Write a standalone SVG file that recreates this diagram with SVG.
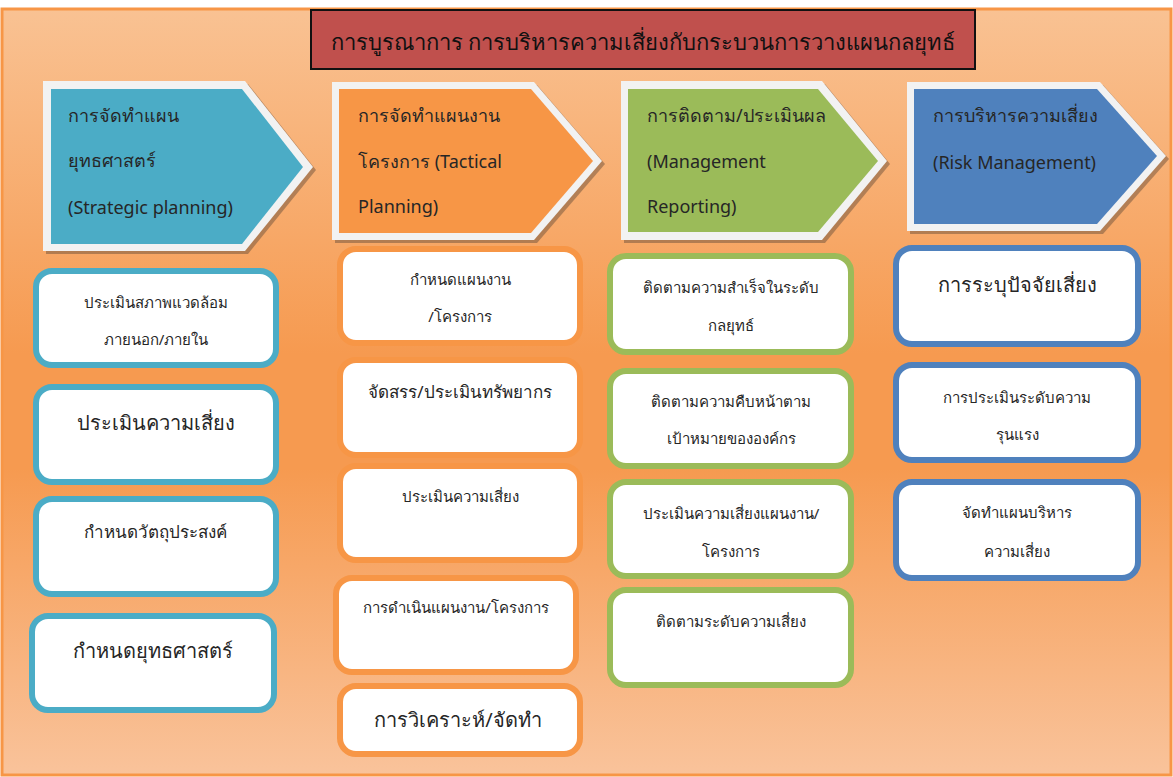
<svg xmlns="http://www.w3.org/2000/svg" width="1173" height="777" viewBox="0 0 1173 777">
<defs>
<linearGradient id="bg" x1="0" y1="0" x2="0" y2="1">
<stop offset="0" stop-color="#F9C293"/>
<stop offset="0.45" stop-color="#F69A50"/>
<stop offset="0.6" stop-color="#F69A50"/>
<stop offset="1" stop-color="#F9C39B"/>
</linearGradient>
<style>
text{font-family:"Noto Sans","DejaVu Sans",sans-serif;fill:#262626;}
.hd{font-size:18px;}
.s{font-size:15px;text-anchor:middle;}
.m{font-size:17px;text-anchor:middle;}
.l{font-size:20px;text-anchor:middle;}
.outer{fill:#F2F2F2;}
.shadow{fill:#7a5a40;opacity:0.55;}
.box{fill:#FFFFFF;stroke-width:6;}
.teal{stroke:#4BACC6;}
.orange{stroke:#F79646;}
.green{stroke:#9BBB59;}
.blue{stroke:#4F81BD;}
</style>
</defs>
<rect x="0" y="0" width="1173" height="777" fill="#FFFFFF"/>
<rect x="2" y="9" width="1169" height="766" fill="url(#bg)" stroke="#F79646" stroke-width="3"/>

<g id="title">
<rect x="311" y="10" width="664" height="59" fill="#C0504D" stroke="#111" stroke-width="2"/>
<text x="643" y="50" style="font-size:22px;text-anchor:middle;fill:#111;">การบูรณาการ การบริหารความเสี่ยงกับกระบวนการวางแผนกลยุทธ์</text>
</g>

<g id="chevron1">
<polygon class="shadow" points="46,84 248,84 316,170 248,254 46,254"/>
<polygon class="outer" points="43,81 245,81 313,167 245,251 43,251"/>
<polygon fill="#4BACC6" points="51,89 242,89 303,167 242,244 51,244"/>
<text class="hd" x="68" y="122">การจัดทำแผน</text>
<text class="hd" x="68" y="167">ยุทธศาสตร์</text>
<text class="hd" x="68" y="214">(Strategic planning)</text>
</g>

<g id="chevron2">
<polygon class="shadow" points="335,85 537,85 605,164 537,243 335,243"/>
<polygon class="outer" points="332,82 534,82 602,161 534,240 332,240"/>
<polygon fill="#F79646" points="339,89 531,89 593,161 531,233 339,233"/>
<text class="hd" x="358" y="122">การจัดทำแผนงาน</text>
<text class="hd" x="358" y="168">โครงการ (Tactical</text>
<text class="hd" x="358" y="213">Planning)</text>
</g>

<g id="chevron3">
<polygon class="shadow" points="624,84 825,84 890,164 825,243 624,243"/>
<polygon class="outer" points="621,81 822,81 887,161 822,240 621,240"/>
<polygon fill="#9BBB59" points="628,89 818,89 878,161 818,232 628,232"/>
<text class="hd" x="647" y="122">การติดตาม/ประเมินผล</text>
<text class="hd" x="647" y="168">(Management</text>
<text class="hd" x="647" y="213">Reporting)</text>
</g>

<g id="chevron4">
<polygon class="shadow" points="910,85 1103,85 1169,159 1103,234 910,234"/>
<polygon class="outer" points="907,82 1100,82 1166,156 1100,231 907,231"/>
<polygon fill="#4F81BD" points="914,89 1097,89 1157,156 1097,224 914,224"/>
<text class="hd" x="933" y="122">การบริหารความเสี่ยง</text>
<text class="hd" x="933" y="169">(Risk Management)</text>
</g>

<g id="s1b1"><rect class="box teal" x="36" y="271" width="240" height="94" rx="16"/>
<text class="s" x="156" y="308">ประเมินสภาพแวดล้อม</text><text class="s" x="156" y="345">ภายนอก/ภายใน</text></g>
<g id="s1b2"><rect class="box teal" x="36" y="387" width="240" height="95" rx="16"/>
<text class="l" x="156" y="430">ประเมินความเสี่ยง</text></g>
<g id="s1b3"><rect class="box teal" x="36" y="499" width="240" height="95" rx="16"/>
<text class="m" x="155" y="538">กำหนดวัตถุประสงค์</text></g>
<g id="s1b4"><rect class="box teal" x="32" y="616" width="242" height="94" rx="16"/>
<text class="l" x="153" y="658">กำหนดยุทธศาสตร์</text></g>

<g id="s2b1"><rect class="box orange" x="340" y="249" width="240" height="94" rx="16"/>
<text class="s" x="460" y="285">กำหนดแผนงาน</text><text class="s" x="460" y="322">/โครงการ</text></g>
<g id="s2b2"><rect class="box orange" x="340" y="360" width="240" height="95" rx="16"/>
<text class="m" x="460" y="398">จัดสรร/ประเมินทรัพยากร</text></g>
<g id="s2b3"><rect class="box orange" x="340" y="466" width="240" height="94" rx="16"/>
<text class="s" x="460" y="502">ประเมินความเสี่ยง</text></g>
<g id="s2b4"><rect class="box orange" x="336" y="578" width="240" height="94" rx="16"/>
<text class="s" x="456" y="613">การดำเนินแผนงาน/โครงการ</text></g>
<g id="s2b5"><rect class="box orange" x="340" y="686" width="240" height="68" rx="16"/>
<text class="l" x="458" y="727">การวิเคราะห์/จัดทำ</text></g>

<g id="s3b1"><rect class="box green" x="610" y="256" width="241" height="96" rx="16"/>
<text class="s" x="731" y="293">ติดตามความสำเร็จในระดับ</text><text class="s" x="731" y="331">กลยุทธ์</text></g>
<g id="s3b2"><rect class="box green" x="610" y="371" width="241" height="95" rx="16"/>
<text class="s" x="731" y="407">ติดตามความคืบหน้าตาม</text><text class="s" x="731" y="444">เป้าหมายขององค์กร</text></g>
<g id="s3b3"><rect class="box green" x="610" y="482" width="241" height="94" rx="16"/>
<text class="s" x="731" y="519">ประเมินความเสี่ยงแผนงาน/</text><text class="s" x="731" y="557">โครงการ</text></g>
<g id="s3b4"><rect class="box green" x="610" y="590" width="241" height="95" rx="16"/>
<text class="s" x="731" y="627">ติดตามระดับความเสี่ยง</text></g>

<g id="s4b1"><rect class="box blue" x="896" y="248" width="242" height="96" rx="16"/>
<text class="l" x="1017" y="292">การระบุปัจจัยเสี่ยง</text></g>
<g id="s4b2"><rect class="box blue" x="896" y="365" width="242" height="95" rx="16"/>
<text class="s" x="1017" y="403">การประเมินระดับความ</text><text class="s" x="1017" y="440">รุนแรง</text></g>
<g id="s4b3"><rect class="box blue" x="896" y="482" width="242" height="96" rx="16"/>
<text class="s" x="1017" y="518">จัดทำแผนบริหาร</text><text class="s" x="1017" y="557">ความเสี่ยง</text></g>

<g id="connectors"></g>
</svg>
